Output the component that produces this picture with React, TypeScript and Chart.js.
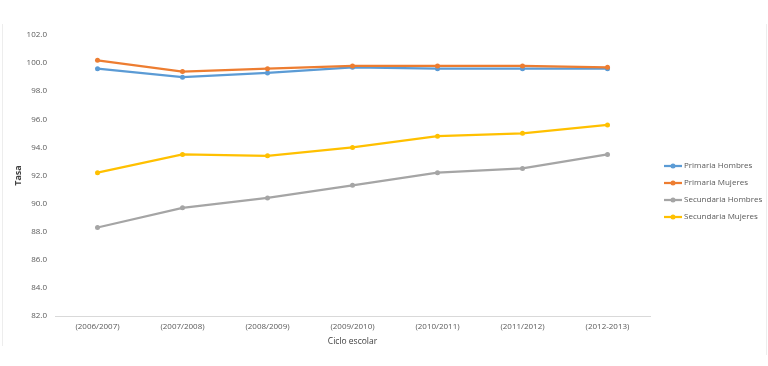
import React, { useEffect, useRef } from "react";
import { Chart, registerables } from "chart.js";

Chart.register(...registerables);

const categories = ["(2006/2007)", "(2007/2008)", "(2008/2009)", "(2009/2010)", "(2010/2011)", "(2011/2012)", "(2012-2013)"];
const primariaHombres = [99.6, 99.0, 99.3, 99.7, 99.6, 99.6, 99.6];
const primariaMujeres = [100.2, 99.4, 99.6, 99.8, 99.8, 99.8, 99.7];
const secundariaHombres = [88.3, 89.7, 90.4, 91.3, 92.2, 92.5, 93.5];
const secundariaMujeres = [92.2, 93.5, 93.4, 94.0, 94.8, 95.0, 95.6];
const seriesNames = ["Primaria Hombres", "Primaria Mujeres", "Secundaria Hombres", "Secundaria Mujeres"];
const seriesColors = ["#5B9BD5", "#ED7D31", "#A5A5A5", "#FFC000"];
const yAxisTitle = "Tasa";
const xAxisTitle = "Ciclo escolar";

const FONT = "'Open Sans', 'DejaVu Sans', sans-serif";
const TEXT = "#595959";

const legendPlugin = {
  id: "customLegend",
  afterDraw(chart: any) {
    const ctx = chart.ctx;
    ctx.save();
    chart.data.datasets.forEach((ds: any, i: number) => {
      const y = 166 + i * 17;
      ctx.strokeStyle = ds.borderColor;
      ctx.lineWidth = 2.25;
      ctx.beginPath();
      ctx.moveTo(664, y);
      ctx.lineTo(682, y);
      ctx.stroke();
      ctx.fillStyle = ds.borderColor;
      ctx.beginPath();
      ctx.arc(673, y, 2.5, 0, Math.PI * 2);
      ctx.fill();
      ctx.fillStyle = TEXT;
      ctx.font = `8px ${FONT}`;
      ctx.textBaseline = "middle";
      ctx.textAlign = "left";
      ctx.fillText(ds.label, 684, y);
    });
    ctx.restore();
  },
};

const framePlugin = {
  id: "frame",
  beforeDraw(chart: any) {
    const ctx = chart.ctx;
    ctx.save();
    ctx.strokeStyle = "#ededed";
    ctx.lineWidth = 1;
    ctx.beginPath();
    ctx.moveTo(2.5, 24);
    ctx.lineTo(2.5, 346);
    ctx.moveTo(766.5, 24);
    ctx.lineTo(766.5, 355);
    ctx.stroke();
    ctx.restore();
  },
};

export default function App() {
  const ref = useRef<HTMLCanvasElement | null>(null);

  useEffect(() => {
    document.body.style.margin = "0";
    if (!ref.current) return;
    const data = [primariaHombres, primariaMujeres, secundariaHombres, secundariaMujeres];
    const chart = new Chart(ref.current, {
      type: "line",
      data: {
        labels: categories,
        datasets: data.map((d, i) => ({
          label: seriesNames[i],
          data: d,
          borderColor: seriesColors[i],
          backgroundColor: seriesColors[i],
          borderWidth: 2.25,
          pointRadius: 2.5,
          pointHoverRadius: 2.5,
          pointBorderWidth: 0,
          tension: 0,
          fill: false,
          order: 4 - i,
        })),
      },
      options: {
        responsive: false,
        animation: false,
        layout: { padding: { top: 35, right: 118, bottom: 0, left: 0 } },
        plugins: {
          legend: { display: false },
          tooltip: { enabled: false },
        },
        scales: {
          x: {
            offset: true,
            grid: { display: false, drawTicks: false },
            border: { display: true, color: "#d9d9d9", width: 1 },
            ticks: {
              color: TEXT,
              font: { family: FONT, size: 8 },
              padding: 6,
              maxRotation: 0,
              autoSkip: false,
            },
            title: {
              display: true,
              text: xAxisTitle,
              color: "#404040",
              font: { family: FONT, size: 8.5 },
              padding: { top: 4, bottom: 19 },
            },
            afterFit(scale: any) {
              scale.height = 50;
            },
          },
          y: {
            min: 82,
            max: 102,
            grid: { display: false, drawTicks: false },
            border: { display: false },
            ticks: {
              stepSize: 2,
              color: TEXT,
              font: { family: FONT, size: 8 },
              padding: 8,
              callback: (v: any) => Number(v).toFixed(1),
            },
            title: {
              display: true,
              text: yAxisTitle,
              color: "#404040",
              font: { family: FONT, size: 9, weight: "bold" },
              padding: { top: 13.5, bottom: 0 },
            },
            afterFit(scale: any) {
              scale.width = 55;
            },
          },
        },
      },
      plugins: [legendPlugin, framePlugin],
    });
    return () => chart.destroy();
  }, []);

  return (
    <div style={{ width: 768, height: 366, background: "#fff" }}>
      <canvas ref={ref} width={768} height={366} style={{ display: "block" }} />
    </div>
  );
}
